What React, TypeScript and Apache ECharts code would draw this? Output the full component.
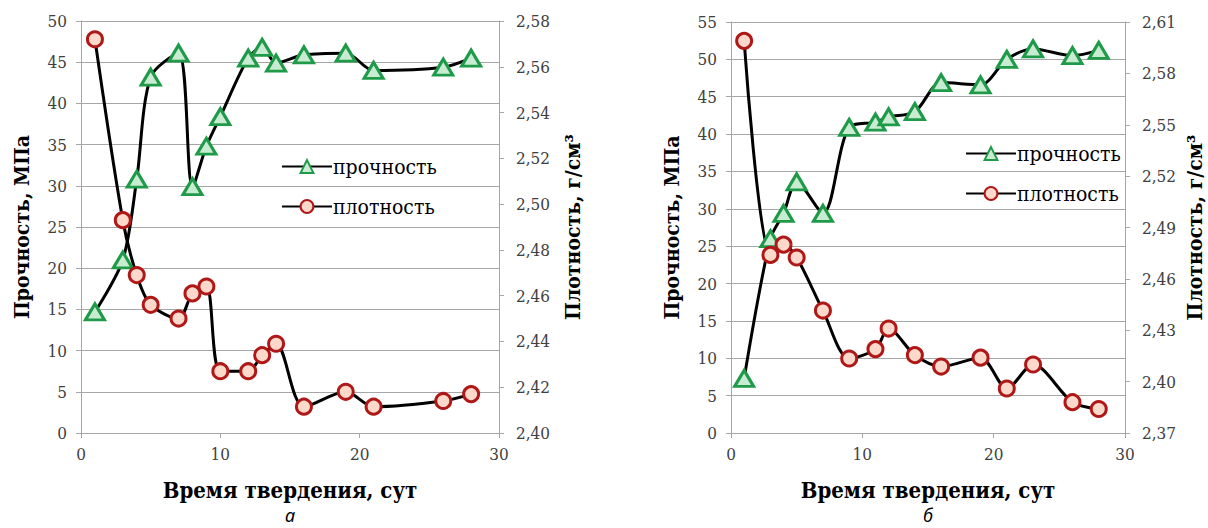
import React, { useEffect, useRef } from 'react';
import * as echarts from 'echarts';

// ---- data ----
const daysA = [1, 3, 4, 5, 7, 8, 9, 10, 12, 13, 14, 16, 19, 21, 26, 28];
const strengthA = [14.7, 21.0, 30.8, 43.2, 46.1, 29.9, 34.8, 38.4, 45.5, 46.8, 44.9, 45.9, 46.1, 44.0, 44.4, 45.5];
const densityA = [2.572, 2.493, 2.469, 2.456, 2.45, 2.461, 2.464, 2.427, 2.427, 2.434, 2.439, 2.4115, 2.418, 2.4115, 2.414, 2.417];

const daysB = [1, 3, 4, 5, 7, 9, 11, 12, 14, 16, 19, 21, 23, 26, 28];
const strengthB = [7.3, 26.0, 29.4, 33.6, 29.4, 40.9, 41.6, 42.3, 43.0, 46.9, 46.6, 50.0, 51.4, 50.5, 51.2];
const densityB = [2.599, 2.474, 2.48, 2.4725, 2.4415, 2.4135, 2.419, 2.431, 2.4155, 2.4088, 2.414, 2.396, 2.41, 2.388, 2.384];

const seriesNames = ['прочность', 'плотность'];
const xName = 'Время твердения, сут';
const yLeftName = 'Прочность, МПа';
const yRightName = 'Плотность, г/см³';
const captions = ['а', 'б'];

const SERIF = 'DejaVu Serif Condensed';
const GRID = '#a6a6a6';
const LABEL = '#404040';

const pairs = (xs: number[], ys: number[]) => xs.map((x, i) => [x, ys[i]]);

const triStyle = { color: '#c8ecd2', borderColor: '#1f9a48', borderWidth: 3 };
const circStyle = { color: '#fcd9cb', borderColor: '#b01818', borderWidth: 3 };

function xAxis(gridIndex: number) {
  return {
    type: 'value',
    gridIndex,
    min: 0,
    max: 30,
    interval: 10,
    name: xName,
    nameLocation: 'middle',
    nameGap: 46,
    nameTextStyle: { fontFamily: SERIF, fontWeight: 'bold', fontSize: 22, color: '#000' },
    axisLine: { show: true, lineStyle: { color: GRID, width: 1 } },
    axisTick: { show: true, length: 5, lineStyle: { color: GRID } },
    axisLabel: { fontFamily: SERIF, fontSize: 17, color: LABEL, margin: 12 },
    splitLine: { show: false },
  };
}

function yLeft(gridIndex: number, max: number) {
  return {
    type: 'value',
    gridIndex,
    position: 'left',
    min: 0,
    max,
    interval: 5,
    name: yLeftName,
    nameLocation: 'middle',
    nameGap: 49,
    nameRotate: 90,
    nameTextStyle: { fontFamily: SERIF, fontWeight: 'bold', fontSize: 21, color: '#000' },
    axisLine: { show: true, lineStyle: { color: GRID, width: 1 } },
    axisTick: { show: true, length: 5, lineStyle: { color: GRID } },
    axisLabel: { fontFamily: SERIF, fontSize: 17, color: LABEL, margin: 14 },
    splitLine: { show: true, lineStyle: { color: GRID, width: 1 } },
  };
}

function yRight(gridIndex: number, min: number, max: number, interval: number, gap: number) {
  return {
    type: 'value',
    gridIndex,
    position: 'right',
    min,
    max,
    interval,
    name: yRightName,
    nameLocation: 'middle',
    nameGap: gap,
    nameRotate: 90,
    nameTextStyle: { fontFamily: SERIF, fontWeight: 'bold', fontSize: 21, color: '#000' },
    axisLine: { show: true, lineStyle: { color: GRID, width: 1 } },
    axisTick: { show: true, length: 5, lineStyle: { color: GRID } },
    axisLabel: {
      fontFamily: SERIF,
      fontSize: 17,
      color: LABEL,
      margin: 17,
      formatter: (v: number) => v.toFixed(2).replace('.', ','),
    },
    splitLine: { show: false },
  };
}

function lineSeries(name: string, xi: number, yi: number, data: number[][], tri: boolean) {
  return {
    type: 'line',
    name,
    xAxisIndex: xi,
    yAxisIndex: yi,
    data,
    smooth: 0.3,
    symbol: tri ? 'triangle' : 'circle',
    symbolSize: tri ? [19, 16] : 15,
    showAllSymbol: true,
    lineStyle: { color: '#000', width: 3 },
    itemStyle: tri ? triStyle : circStyle,
    emphasis: { disabled: true },
  };
}

function legend(left: number, top: number) {
  return {
    orient: 'vertical',
    left,
    top,
    data: seriesNames,
    itemWidth: 50,
    itemHeight: 16,
    itemGap: 19,
    selectedMode: false,
    textStyle: { fontFamily: SERIF, fontSize: 21, color: '#000', padding: [0, 0, 0, -4] },
  };
}

function caption(text: string, x: number) {
  return {
    type: 'text',
    x,
    y: 515,
    style: {
      text,
      fontFamily: 'Noto Sans',
      fontStyle: 'italic',
      fontSize: 18,
      fill: '#000',
      textAlign: 'center',
      textVerticalAlign: 'middle',
    },
  };
}

export default function App() {
  const ref = useRef<HTMLDivElement>(null);

  useEffect(() => {
    if (!ref.current) return;
    const chart = echarts.init(ref.current, undefined, { renderer: 'svg' });
    chart.setOption({
      animation: false,
      backgroundColor: '#fff',
      grid: [
        { left: 81, right: 1208 - 499, top: 21, bottom: 528 - 433 },
        { left: 731, right: 1208 - 1125, top: 22, bottom: 528 - 433 },
      ],
      xAxis: [xAxis(0), xAxis(1)],
      yAxis: [
        yLeft(0, 50),
        yRight(0, 2.4, 2.58, 0.02, 63),
        yLeft(1, 55),
        yRight(1, 2.37, 2.61, 0.03, 59),
      ],
      legend: [legend(276, 151), legend(960, 138)],
      series: [
        lineSeries(seriesNames[0], 0, 0, pairs(daysA, strengthA), true),
        lineSeries(seriesNames[1], 0, 1, pairs(daysA, densityA), false),
        lineSeries(seriesNames[0], 1, 2, pairs(daysB, strengthB), true),
        lineSeries(seriesNames[1], 1, 3, pairs(daysB, densityB), false),
      ],
      graphic: [caption(captions[0], 290), caption(captions[1], 928)],
    });
    return () => chart.dispose();
  }, []);

  return (
    <div
      ref={ref}
      style={{ position: 'fixed', left: 0, top: 0, width: 1208, height: 528, background: '#fff' }}
    />
  );
}
